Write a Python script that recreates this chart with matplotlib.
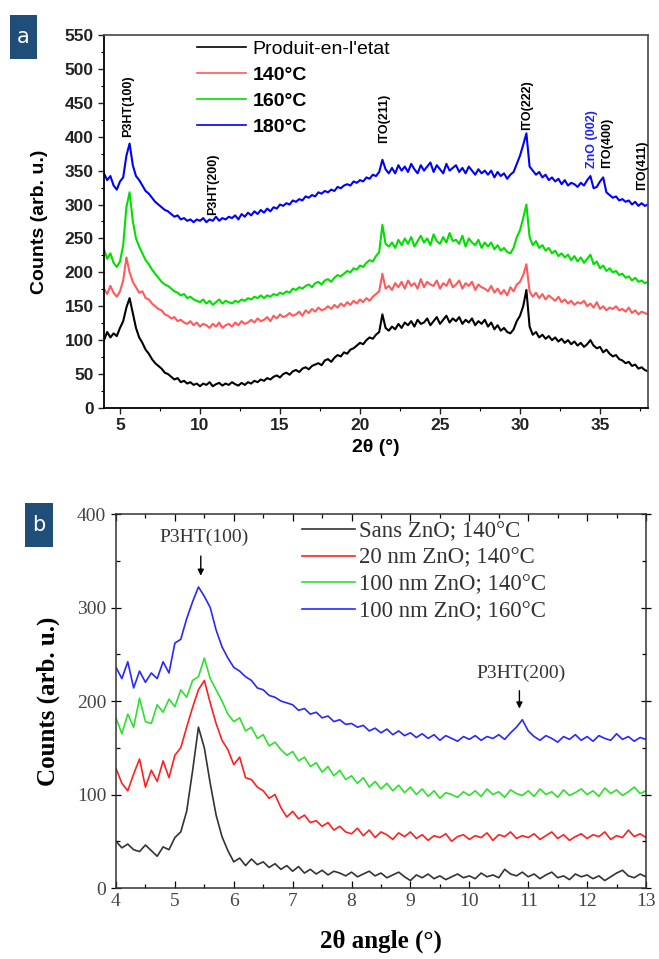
import numpy as np
import matplotlib
matplotlib.use("Agg")
import matplotlib.pyplot as plt
from matplotlib.ticker import MultipleLocator
from matplotlib.patches import Rectangle

# ---------- panel a : XRD 2theta 4..38, step 0.2 ----------
twotheta_a = np.round(np.arange(4.0, 38.0001, 0.2), 1)

produit = [100, 112, 104, 110, 106, 118, 128, 148, 162, 140,
           118, 104, 96, 86, 80, 72, 66, 62, 58, 52,
           50, 46, 42, 44, 38, 40, 36, 38, 34, 36,
           32, 36, 34, 38, 32, 35, 37, 33, 36, 34,
           38, 35, 33, 37, 34, 38, 36, 40, 38, 42,
           40, 44, 42, 46, 48, 45, 50, 52, 49, 54,
           56, 53, 58, 60, 57, 62, 64, 66, 63, 70,
           72, 68, 74, 78, 76, 82, 80, 86, 88, 92,
           96, 94, 100, 104, 102, 108, 112, 138, 118, 114,
           120, 116, 124, 118, 126, 122, 128, 120, 130, 124,
           126, 132, 122, 128, 134, 124, 130, 136, 126, 132,
           128, 134, 124, 130, 126, 132, 122, 128, 124, 130,
           120, 126, 116, 122, 114, 118, 112, 110, 116, 128,
           136, 150, 174, 120, 108, 112, 104, 108, 102, 106,
           100, 104, 98, 102, 96, 100, 94, 98, 92, 96,
           90, 94, 100, 92, 88, 90, 82, 86, 80, 76,
           78, 72, 70, 66, 68, 62, 64, 58, 60, 56,
           54]
t140 = [176, 168, 180, 170, 164, 172, 188, 222, 200, 186,
        178, 170, 172, 162, 160, 154, 150, 146, 144, 138,
        136, 132, 134, 128, 130, 126, 124, 128, 122, 126,
        120, 124, 122, 118, 124, 120, 126, 118, 122, 124,
        120, 126, 122, 128, 124, 126, 130, 126, 132, 128,
        130, 134, 128, 136, 132, 138, 134, 136, 140, 136,
        138, 142, 136, 144, 140, 146, 142, 148, 144, 146,
        150, 146, 152, 148, 154, 150, 156, 152, 158, 154,
        160, 156, 162, 158, 164, 168, 172, 198, 176, 180,
        174, 184, 178, 186, 176, 188, 180, 184, 176, 190,
        178, 186, 182, 180, 188, 176, 184, 180, 190, 178,
        182, 188, 176, 184, 180, 186, 174, 182, 178, 176,
        172, 180, 170, 176, 168, 174, 166, 178, 172, 182,
        186, 196, 212, 172, 164, 170, 162, 168, 160, 166,
        162, 158, 164, 156, 160, 154, 158, 152, 156, 154,
        158, 150, 154, 148, 156, 146, 150, 144, 148, 146,
        150, 144, 146, 142, 148, 140, 144, 138, 142, 140,
        138]
t160 = [234, 220, 228, 214, 208, 216, 240, 296, 318, 276,
        250, 238, 228, 218, 212, 204, 198, 192, 186, 182,
        180, 176, 172, 170, 166, 168, 162, 164, 160, 158,
        156, 160, 154, 158, 152, 156, 160, 154, 158, 156,
        154, 158, 156, 160, 158, 162, 160, 164, 162, 166,
        162, 166, 164, 168, 166, 170, 168, 172, 170, 176,
        174, 178, 176, 180, 182, 178, 184, 186, 182, 188,
        190, 186, 192, 196, 194, 198, 202, 200, 206, 204,
        210, 208, 214, 218, 216, 224, 230, 270, 242, 238,
        244, 236, 248, 240, 250, 242, 252, 238, 246, 254,
        244, 250, 240, 256, 246, 242, 252, 244, 258, 246,
        248, 242, 254, 238, 250, 244, 240, 248, 236, 244,
        238, 244, 234, 240, 232, 236, 230, 228, 236, 252,
        262, 280, 300, 252, 240, 246, 236, 240, 232, 236,
        228, 232, 224, 228, 222, 226, 218, 224, 216, 222,
        214, 220, 226, 212, 216, 206, 210, 202, 206, 200,
        202, 196, 198, 192, 194, 188, 192, 186, 188, 184,
        186]
t180 = [346, 336, 342, 328, 322, 334, 340, 372, 390, 358,
        342, 336, 328, 320, 316, 310, 304, 300, 296, 292,
        290, 286, 282, 284, 278, 280, 276, 278, 274, 278,
        276, 280, 274, 278, 276, 282, 276, 280, 278, 282,
        280, 284, 278, 286, 282, 288, 284, 290, 286, 292,
        288, 294, 290, 296, 294, 300, 298, 302, 300, 306,
        304, 308, 306, 312, 310, 314, 312, 318, 316, 320,
        318, 322, 320, 326, 324, 328, 330, 328, 334, 332,
        336, 334, 340, 338, 344, 342, 348, 366, 352, 346,
        354, 346, 358, 350, 356, 348, 360, 352, 346, 358,
        350, 356, 362, 348, 358, 352, 346, 360, 350, 354,
        358, 348, 354, 346, 356, 350, 344, 352, 346, 350,
        344, 350, 340, 348, 342, 346, 338, 344, 348, 360,
        372, 388, 405, 356, 350, 344, 348, 340, 344, 336,
        340, 334, 338, 330, 336, 328, 332, 330, 326, 332,
        328, 336, 342, 324, 326, 334, 340, 318, 314, 310,
        312, 306, 308, 304, 306, 300, 304, 298, 302, 298,
        300]

labels_a = ["Produit-en-l'etat", "140°C", "160°C", "180°C"]
colors_a = ["black", "#ff5a5a", "#00e000", "#0000ff"]

peaks_a = ["P3HT(100)", "P3HT(200)", "ITO(211)", "ITO(222)", "ZnO (002)", "ITO(400)", "ITO(411)"]
peaks_a_x = [5.5, 10.8, 21.5, 30.45, 34.5, 35.45, 37.65]
peaks_a_y = [400, 285, 391, 410, 354, 354, 321]
peaks_a_col = ["black", "black", "black", "black", "#2020ff", "black", "black"]

# ---------- panel b : 2theta 4..13, step 0.1 ----------
twotheta_b = np.round(np.arange(4.0, 13.0001, 0.1), 1)

sans_zno = [50, 43, 47, 41, 39, 46, 40, 34, 44, 41,
            54, 60, 82, 125, 172, 150, 112, 78, 55, 40,
            28, 32, 24, 31, 25, 28, 22, 26, 20, 24,
            18, 23, 16, 20, 15, 19, 14, 18, 16, 13,
            17, 12, 15, 18, 13, 16, 11, 14, 17, 12,
            8, 14, 11, 15, 10, 13, 9, 12, 15, 11,
            13, 10, 16, 12, 14, 11, 20, 15, 13, 17,
            12, 15, 10, 14, 17, 11, 13, 9, 15, 12,
            14, 10, 13, 8, 12, 16, 19, 13, 11, 15,
            12]
zno20_140 = [128, 112, 104, 122, 138, 108, 126, 114, 136, 118,
             142, 150, 172, 193, 212, 222, 198, 176, 158, 148,
             132, 140, 118, 116, 108, 104, 96, 100, 86, 76,
             82, 74, 78, 70, 72, 66, 70, 62, 66, 60,
             58, 64, 56, 62, 54, 60, 57, 52, 59, 55,
             60, 53, 57, 51, 56, 54, 58, 50, 55, 57,
             52, 56, 54, 59, 51, 57, 55, 60, 53, 56,
             54, 58, 52, 56, 60, 53, 57, 51, 55, 58,
             53, 57, 55, 60, 52, 56, 54, 62, 55, 58,
             54]
zno100_140 = [182, 165, 186, 172, 203, 178, 176, 196, 188, 202,
              194, 212, 204, 222, 226, 246, 224, 212, 200, 186,
              178, 182, 168, 172, 160, 164, 152, 156, 148, 142,
              146, 136, 140, 130, 134, 124, 130, 120, 126, 116,
              120, 112, 118, 108, 114, 106, 112, 104, 110, 102,
              108, 100, 106, 98, 104, 96, 102, 100, 97, 103,
              99, 104, 98, 106, 100, 103, 97, 105, 101, 99,
              104, 98, 106, 100, 103, 97, 105, 99, 102, 106,
              100, 104, 98, 107, 101, 105, 99, 103, 108, 101,
              104]
zno100_160 = [236, 224, 242, 214, 232, 220, 230, 224, 242, 230,
              262, 266, 288, 306, 322, 312, 300, 276, 258, 246,
              236, 232, 226, 222, 214, 212, 206, 204, 200, 198,
              196, 190, 192, 186, 188, 182, 184, 178, 180, 175,
              176, 172, 174, 168, 171, 166, 170, 164, 168, 163,
              166, 161, 165, 160, 164, 158, 163, 160, 157, 162,
              159, 163, 158, 162, 160, 164, 159, 166, 172, 180,
              168, 162, 158, 163, 160, 156, 162, 159, 164, 158,
              162, 157, 163, 160, 158, 165, 159, 162, 157, 161,
              159]

labels_b = ["Sans ZnO; 140°C", "20 nm ZnO; 140°C", "100 nm ZnO; 140°C", "100 nm ZnO; 160°C"]
colors_b = ["#333333", "#ff2020", "#30e030", "#2828ff"]

W, H = 659, 959
fig = plt.figure(figsize=(W / 100, H / 100), dpi=100)


def panel_tag(letter, x0, y0, w, h):
    # dark blue square with white letter, pixel coords from top-left
    fig.patches.append(Rectangle((x0 / W, 1 - (y0 + h) / H), w / W, h / H,
                                 transform=fig.transFigure, facecolor="#1f4e79",
                                 edgecolor="none"))
    fig.text((x0 + w / 2) / W, 1 - (y0 + h / 2) / H, letter, color="white",
             fontsize=15, ha="center", va="center", family="DejaVu Sans")


# ===================== panel a =====================
ax1 = fig.add_axes([0.1578, 0.5746, 0.8255, 0.3889])
for y, lab, c in zip([produit, t140, t160, t180], labels_a, colors_a):
    ax1.plot(twotheta_a, y, color=c, lw=1.5, label=lab)

ax1.set_xlim(4, 38)
ax1.set_ylim(0, 550)
ax1.xaxis.set_major_locator(MultipleLocator(5))
ax1.xaxis.set_minor_locator(MultipleLocator(2.5))
ax1.yaxis.set_major_locator(MultipleLocator(50))
ax1.yaxis.set_minor_locator(MultipleLocator(25))
ax1.tick_params(which="major", direction="out", length=4, width=1,
                labelsize=12.5, colors="#222222")
ax1.tick_params(which="minor", direction="out", length=2.5, width=0.8)
for t in ax1.get_xticklabels() + ax1.get_yticklabels():
    t.set_fontfamily("Liberation Sans")
    t.set_fontweight("bold")
for s in ax1.spines.values():
    s.set_linewidth(1.3)
ax1.spines["top"].set_color("#555555")
ax1.spines["right"].set_color("#555555")

ax1.set_xlabel("2θ (°)", fontsize=14, fontweight="bold", family="Liberation Sans", labelpad=4)
ax1.set_ylabel("Counts (arb. u.)", fontsize=14, fontweight="bold", family="Liberation Sans")
ax1.yaxis.set_label_coords(-0.103, 0.5)

for name, xp, yp, c in zip(peaks_a, peaks_a_x, peaks_a_y, peaks_a_col):
    ax1.text(xp, yp, name, rotation=90, ha="center", va="bottom", fontsize=9,
             fontweight="bold", family="Liberation Sans", color=c)

leg1 = ax1.legend(loc="upper left", bbox_to_anchor=(0.171, 0.985), frameon=False,
                  prop={"family": "Liberation Sans", "weight": "bold", "size": 14},
                  handlelength=2.5, handletextpad=0.35, labelspacing=0.42,
                  borderpad=0, borderaxespad=0)
leg1.get_texts()[0].set_fontweight("normal")
for h in leg1.get_lines():
    h.set_linewidth(1.2)

panel_tag("a", 10, 15, 27, 44)

# ===================== panel b =====================
ax2 = fig.add_axes([0.176, 0.074, 0.8043, 0.390])
for y, lab, c in zip([sans_zno, zno20_140, zno100_140, zno100_160], labels_b, colors_b):
    ax2.plot(twotheta_b, y, color=c, lw=1.2, label=lab)

ax2.set_xlim(4, 13)
ax2.set_ylim(0, 400)
ax2.xaxis.set_major_locator(MultipleLocator(1))
ax2.xaxis.set_minor_locator(MultipleLocator(0.5))
ax2.yaxis.set_major_locator(MultipleLocator(100))
ax2.yaxis.set_minor_locator(MultipleLocator(50))
ax2.tick_params(which="both", direction="in", top=True, right=True, width=0.9)
ax2.tick_params(which="major", length=5, labelsize=14, labelcolor="#444444")
ax2.tick_params(axis="y", which="major", direction="inout", length=7)
ax2.tick_params(which="minor", length=3)
for t in ax2.get_xticklabels() + ax2.get_yticklabels():
    t.set_fontfamily("Liberation Serif")
for s in ax2.spines.values():
    s.set_linewidth(1.1)
    s.set_color("#333333")

ax2.set_xlabel("2θ angle (°)", fontsize=18, fontweight="bold", family="Liberation Serif", labelpad=14)
ax2.set_ylabel("Counts (arb. u.)", fontsize=18, fontweight="bold", family="Liberation Serif")
ax2.yaxis.set_label_coords(-0.106, 0.5)

ax2.text(5.5, 375, "P3HT(100)", ha="center", va="center", fontsize=14,
         family="Liberation Serif", color="#333333")
ax2.annotate("", xy=(5.44, 331), xytext=(5.44, 358),
             arrowprops=dict(arrowstyle="-|>", color="black", lw=1, mutation_scale=9))
ax2.text(10.88, 230, "P3HT(200)", ha="center", va="center", fontsize=14,
         family="Liberation Serif", color="#333333")
ax2.annotate("", xy=(10.85, 189), xytext=(10.85, 214),
             arrowprops=dict(arrowstyle="-|>", color="black", lw=1, mutation_scale=9))

leg2 = ax2.legend(loc="upper left", bbox_to_anchor=(0.351, 0.982), frameon=False,
                  prop={"family": "Liberation Serif", "size": 16.5},
                  handlelength=2.3, handletextpad=0.2, labelspacing=0.25,
                  borderpad=0, borderaxespad=0)
for t in leg2.get_texts():
    t.set_color("#333333")

panel_tag("b", 25, 503, 28, 44)

fig.savefig("out.png", dpi=100, facecolor="white")
